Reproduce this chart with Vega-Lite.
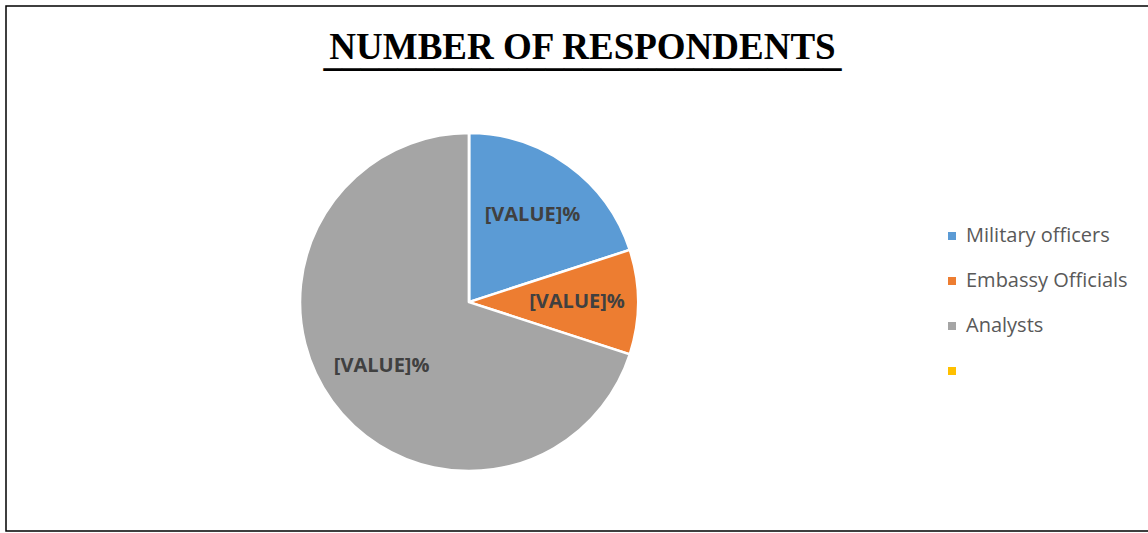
{
  "$schema": "https://vega.github.io/schema/vega-lite/v6.json",
  "width": 1143,
  "height": 525,
  "autosize": {"type": "none"},
  "padding": {"left": 6, "top": 6, "right": -1, "bottom": 2},
  "background": "white",
  "config": {"view": {"stroke": "black", "strokeWidth": 1.5}},
  "title": {
    "text": "NUMBER OF RESPONDENTS",
    "subtitle": "____________________________",
    "font": "Liberation Serif",
    "fontSize": 37,
    "fontWeight": "bold",
    "color": "black",
    "subtitleFont": "Liberation Serif",
    "subtitleFontSize": 37,
    "subtitleFontWeight": "bold",
    "subtitleColor": "black",
    "subtitlePadding": -30,
    "anchor": "middle",
    "frame": "group",
    "orient": "top",
    "dx": 5,
    "offset": -68
  },
  "data": {
    "values": [
      {"group": "Military officers", "value": 20, "n": 1, "label": "[VALUE]%"},
      {"group": "Embassy Officials", "value": 10, "n": 2, "label": "[VALUE]%"},
      {"group": "Analysts", "value": 70, "n": 3, "label": "[VALUE]%"},
      {"group": " ", "value": 0, "n": 4, "label": ""}
    ]
  },
  "encoding": {
    "theta": {"field": "value", "type": "quantitative", "stack": true},
    "order": {"field": "n", "type": "quantitative"},
    "x": {"datum": 0.4051, "type": "quantitative", "scale": {"domain": [0, 1], "nice": false, "zero": false}, "axis": null},
    "y": {"datum": 0.436, "type": "quantitative", "scale": {"domain": [0, 1], "nice": false, "zero": false}, "axis": null}
  },
  "layer": [
    {
      "mark": {"type": "arc", "radius": 169, "stroke": "white", "strokeWidth": 2.5},
      "encoding": {
        "color": {
          "field": "group",
          "type": "nominal",
          "scale": {
            "domain": ["Military officers", "Embassy Officials", "Analysts", " "],
            "range": ["#5B9BD5", "#ED7D31", "#A5A5A5", "#FFC000"]
          },
          "legend": {
            "orient": "none",
            "legendX": 936,
            "legendY": 220,
            "title": null,
            "symbolType": "square",
            "symbolSize": 64,
            "symbolStrokeWidth": 0,
            "labelFont": "Open Sans",
            "labelFontSize": 20,
            "labelColor": "#595959",
            "labelOffset": 4,
            "labelLimit": 400,
            "rowPadding": 25,
            "padding": 0
          }
        }
      }
    },
    {
      "transform": [{"filter": "datum.value > 0"}],
      "mark": {"type": "text", "radius": 108, "font": "Open Sans", "fontSize": 20, "fontWeight": "bold", "color": "#404040"},
      "encoding": {
        "text": {"field": "label", "type": "nominal"}
      }
    }
  ]
}
